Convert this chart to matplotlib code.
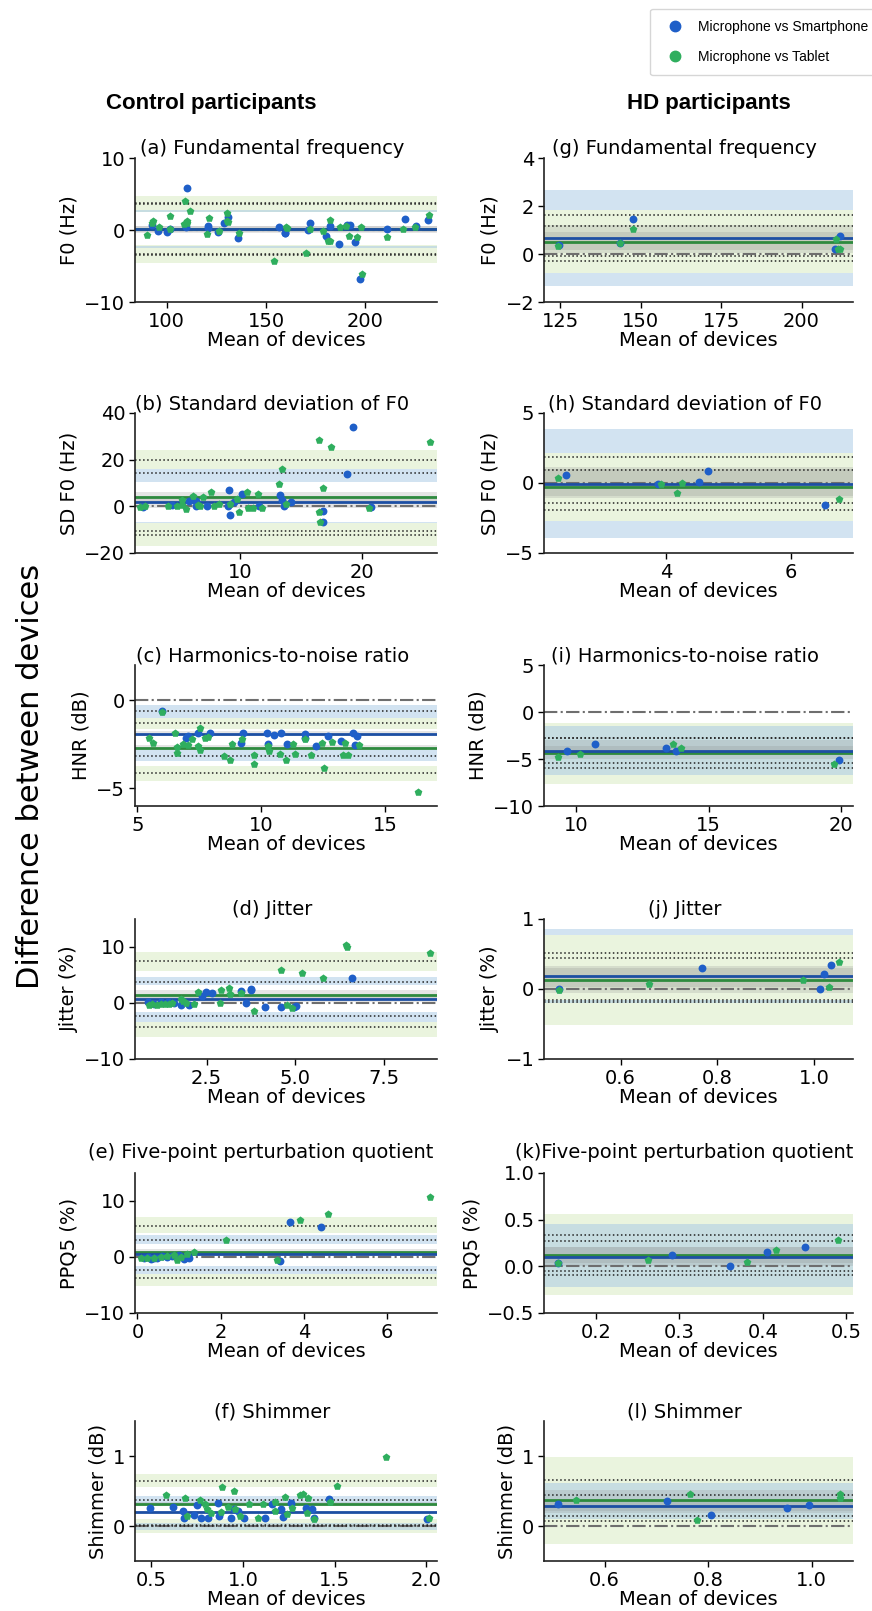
import numpy as np
import matplotlib.pyplot as plt
from matplotlib.lines import Line2D

# ---------------- control participants ----------------
# (a) fundamental frequency
a_phone_x = [92.4, 95.8, 100.3, 101.5, 109.6, 110.1, 120.7, 120.9, 125.9, 128.9, 130.9, 135.7, 156.7, 159.3,
             159.6, 171.0, 171.9, 180.3, 182.0, 186.7, 190.7, 192.4, 194.6, 197.1, 210.6, 219.9, 225.4, 231.6]
a_phone_y = [0.7, -0.1, -0.33, 0.14, 0.47, 5.8, 0.56, 0.23, -0.33, 0.93, 1.77, -1.16, 0.37, -0.37,
             -0.47, 0.0, 1.0, -0.84, 0.56, -1.9, 0.7, 0.7, -1.63, -6.84, 0.1, 1.5, 0.56, 1.4]
a_tab_x = [90.2, 92.8, 93.1, 96.1, 101.7, 101.5, 108.9, 109.3, 110.1, 110.4, 111.6, 120.0, 121.0, 126.4,
           130.1, 130.5, 130.8, 136.2, 154.2, 159.8, 160.4, 169.9, 171.9, 178.6, 181.2, 182.0, 182.0, 187.4,
           190.4, 191.8, 195.5, 197.6, 198.0, 210.6, 219.0, 224.9, 232.2]
a_tab_y = [-0.7, 1.0, 1.3, 0.47, 1.95, 0.1, 0.84, 4.05, 1.0, 1.2, 2.7, -0.56, 1.7, -0.14,
           2.3, 1.3, 1.16, -0.47, -4.28, 0.37, 0.33, -3.16, 0.1, -0.1, -1.53, -1.53, 1.4, 0.37,
           0.56, -0.84, -0.93, 0.37, -6.05, -0.93, 0.1, 0.37, 2.1]
# stats = [mean, lower LoA, upper LoA]; ci = [mean lo, mean hi, lower lo, lower hi, upper lo, upper hi]
a_phone_stats = [0.2, -3.3, 3.8]
a_phone_ci = [-0.3, 0.6, -2.45, -2.25, 2.56, 2.75]
a_tab_stats = [0.1, -3.5, 3.6]
a_tab_ci = [-0.4, 0.5, -4.56, -2.09, 2.56, 4.74]

# (b) standard deviation of F0
b_phone_x = [2.05, 4.45, 5.8, 6.4, 6.45, 7.3, 9.0, 9.1, 9.2, 9.5, 10.2, 11.6, 13.3, 13.5, 13.6, 14.2,
             16.8, 16.85, 18.8, 19.3, 20.8]
b_phone_y = [-0.4, 0.4, 2.4, 2.4, 0.3, 0.0, 0.3, 7.0, -3.7, 2.0, 5.3, 0.3, 4.9, 2.9, 0.0, 2.0,
             -1.9, -6.6, 13.9, 33.9, -0.1]
b_tab_x = [1.8, 2.25, 4.15, 4.85, 5.3, 5.3, 5.6, 6.2, 6.55, 6.75, 7.0, 7.6, 7.9, 8.3, 9.2, 9.8,
           9.9, 10.6, 10.7, 11.1, 11.5, 11.8, 13.2, 13.5, 13.8, 16.5, 16.6, 16.5, 16.8, 17.5, 20.6, 25.6]
b_tab_y = [-0.4, 0.3, 0.1, 0.0, 2.9, 0.6, -1.1, 4.3, 0.6, 0.0, 3.9, 6.0, 0.0, 0.9, 0.9, 3.1,
           -2.3, 6.3, -0.6, -0.9, 5.3, -0.6, 9.6, 16.0, 1.1, -2.3, -6.9, 28.4, 7.7, 25.3, -0.6, 27.7]
b_phone_stats = [2.0, -10.4, 14.3]
b_phone_ci = [-0.5, 4.5, -7.3, -6.8, 10.6, 16.0]
b_tab_stats = [3.9, -12.1, 19.9]
b_tab_ci = [1.7, 6.0, -16.9, -7.3, 16.0, 24.3]

# (c) harmonics-to-noise ratio
c_phone_x = [6.01, 6.96, 7.03, 7.43, 7.91, 9.19, 9.26, 10.23, 10.27, 10.51, 10.78, 11.05, 11.76, 11.78,
             12.23, 12.7, 13.24, 13.72, 13.78, 13.85]
c_phone_y = [-0.6, -2.12, -2.03, -1.84, -1.84, -2.44, -1.84, -1.88, -2.5, -1.95, -1.88, -2.46, -1.9, -2.16,
             -2.6, -2.03, -2.31, -1.84, -2.56, -2.03]
c_tab_x = [5.47, 5.64, 6.0, 6.51, 6.58, 6.59, 6.82, 7.03, 7.19, 7.43, 7.54, 7.53, 7.73, 7.86, 8.51, 8.72,
           8.81, 9.22, 9.69, 9.69, 10.27, 10.31, 10.74, 11.01, 11.28, 11.35, 11.76, 11.99, 12.46, 12.54,
           12.84, 13.31, 13.38, 13.51, 13.95, 16.32]
c_tab_y = [-2.16, -2.42, -0.66, -1.88, -2.63, -3.01, -2.46, -2.56, -2.22, -2.6, -1.55, -2.84, -2.12, -2.06,
           -3.16, -3.41, -2.5, -2.18, -3.1, -3.64, -2.6, -2.88, -3.07, -3.41, -2.5, -3.07, -2.18, -3.1,
           -2.4, -3.83, -2.37, -3.1, -2.4, -3.1, -2.56, -5.19]
c_phone_stats = [-1.9, -3.15, -0.6]
c_phone_ci = [-2.05, -1.75, -3.45, -2.85, -0.98, -0.27]
c_tab_stats = [-2.7, -4.15, -1.27]
c_tab_ci = [-2.85, -2.55, -4.6, -3.75, -1.65, -0.98]

# (d) jitter
d_phone_x = [0.85, 1.03, 1.2, 1.4, 1.58, 1.77, 2.0, 2.36, 2.47, 2.66, 3.46, 3.62, 3.74, 3.76, 4.14, 4.61,
             4.96, 5.01, 6.59]
d_phone_y = [0.1, -0.1, 0.2, 0.1, 0.0, -0.4, -0.4, 1.18, 1.95, 1.78, 2.13, 0.06, 2.37, 2.54, -0.71, -0.71,
             -0.71, -0.59, 4.44]
d_tab_x = [0.87, 0.97, 1.11, 1.2, 1.32, 1.44, 1.53, 1.77, 1.84, 1.91, 2.14, 2.26, 2.87, 2.91, 3.13, 3.16,
           3.46, 3.83, 4.61, 4.77, 4.92, 5.2, 5.79, 6.44, 6.47, 8.8]
d_tab_y = [-0.3, -0.1, -0.3, -0.1, -0.2, -0.1, 0.0, 0.77, 0.35, 0.0, -0.1, 1.95, 0.06, 2.37, 2.72, 1.54,
           1.78, -1.42, 5.92, -0.3, -0.83, 5.33, 4.5, 10.4, 9.94, 8.88]
d_phone_stats = [0.7, -2.4, 3.8]
d_phone_ci = [0.2, 1.2, -3.37, -1.6, 3.14, 4.73]
d_tab_stats = [1.5, -4.3, 7.5]
d_tab_ci = [0.6, 2.4, -6.04, -3.37, 5.68, 9.17]

# (e) five-point perturbation quotient
e_phone_x = [0.16, 0.25, 0.32, 0.4, 0.48, 0.6, 0.7, 0.84, 1.0, 1.12, 1.24, 3.42, 3.66, 4.4]
e_phone_y = [-0.24, 0.0, -0.36, -0.1, -0.24, 0.1, 0.0, 0.18, 0.3, -0.3, -0.12, -0.71, 6.21, 5.38]
e_tab_x = [0.08, 0.24, 0.4, 0.56, 0.72, 0.88, 0.96, 1.04, 1.2, 1.36, 2.12, 3.36, 3.9, 4.58, 7.02]
e_tab_y = [-0.1, -0.2, -0.1, 0.0, 0.18, 0.35, -0.53, 0.0, 0.47, 0.95, 2.96, -0.59, 6.69, 7.69, 10.65]
e_phone_stats = [0.47, -2.3, 3.1]
e_phone_ci = [0.15, 0.8, -3.1, -1.6, 2.25, 3.85]
e_tab_stats = [0.95, -3.8, 5.6]
e_tab_ci = [0.4, 1.5, -5.2, -3.1, 4.3, 7.1]

# (f) shimmer
f_phone_x = [0.491, 0.618, 0.672, 0.678, 0.732, 0.75, 0.768, 0.808, 0.866, 0.871, 0.935, 0.953, 0.975,
             1.007, 1.12, 1.156, 1.207, 1.221, 1.261, 1.342, 1.379, 1.388, 1.469, 2.004]
f_phone_y = [0.262, 0.271, 0.214, 0.119, 0.152, 0.295, 0.119, 0.119, 0.324, 0.143, 0.119, 0.238, 0.214,
             0.119, 0.119, 0.31, 0.248, 0.133, 0.333, 0.262, 0.238, 0.119, 0.381, 0.105]
f_tab_x = [0.578, 0.681, 0.696, 0.763, 0.79, 0.804, 0.826, 0.884, 0.88, 0.917, 0.953, 0.957, 0.986, 1.034,
           1.083, 1.112, 1.174, 1.174, 1.228, 1.239, 1.27, 1.312, 1.33, 1.351, 1.355, 1.388, 1.475, 1.514,
           1.78, 2.018]
f_tab_y = [0.438, 0.405, 0.143, 0.371, 0.31, 0.248, 0.19, 0.557, 0.2, 0.276, 0.5, 0.248, 0.143, 0.31,
           0.119, 0.31, 0.343, 0.214, 0.419, 0.167, 0.262, 0.438, 0.452, 0.181, 0.405, 0.095, 0.343, 0.571,
           0.99, 0.119]
f_phone_stats = [0.2, 0.02, 0.37]
f_phone_ci = [0.18, 0.22, -0.05, 0.05, 0.31, 0.43]
f_tab_stats = [0.32, 0.0, 0.65]
f_tab_ci = [0.29, 0.35, -0.1, 0.1, 0.56, 0.75]

# ---------------- HD participants ----------------
# (g) fundamental frequency
g_phone_x = [124.6, 143.6, 147.8, 210.3, 211.9]
g_phone_y = [0.37, 0.46, 1.45, 0.22, 0.77]
g_tab_x = [124.5, 143.6, 147.5, 210.6, 211.3, 211.9]
g_tab_y = [0.32, 0.44, 1.03, 0.63, 0.22, 0.22]
g_phone_stats = [0.65, -0.3, 1.62]
g_phone_ci = [0.05, 1.2, -1.33, -0.8, 1.85, 2.67]
g_tab_stats = [0.52, -0.1, 1.17]
g_tab_ci = [0.15, 0.9, -0.8, 0.5, 0.5, 1.85]

# (h) standard deviation of F0
h_phone_x = [2.4, 3.87, 4.52, 4.67, 6.55]
h_phone_y = [0.6, -0.1, 0.05, 0.88, -1.6]
h_tab_x = [2.27, 3.92, 4.17, 4.26, 6.77]
h_tab_y = [0.36, -0.07, -0.71, 0.0, -1.14]
h_phone_stats = [-0.05, -1.95, 1.86]
h_phone_ci = [-1.07, 0.97, -3.93, -2.74, 2.14, 3.86]
h_tab_stats = [-0.29, -1.43, 0.9]
h_tab_ci = [-0.9, 1.14, -2.74, -0.25, -0.25, 2.14]

# (i) harmonics-to-noise ratio
i_phone_x = [9.65, 10.69, 13.4, 13.78, 19.94]
i_phone_y = [-4.1, -3.37, -3.8, -4.2, -5.13]
i_tab_x = [9.31, 10.13, 13.66, 13.95, 19.75]
i_tab_y = [-4.84, -4.47, -3.44, -3.85, -5.57]
i_phone_stats = [-4.1, -5.4, -2.8]
i_phone_ci = [-4.6, -3.6, -6.74, -4.1, -4.1, -1.46]
i_tab_stats = [-4.4, -6.0, -2.75]
i_tab_ci = [-5.0, -3.0, -7.65, -4.4, -4.4, -1.17]

# (j) jitter
j_phone_x = [0.473, 0.768, 1.012, 1.021, 1.034]
j_phone_y = [0.0, 0.297, 0.0, 0.215, 0.349]
j_tab_x = [0.473, 0.658, 0.976, 1.03, 1.052]
j_tab_y = [-0.01, 0.077, 0.134, 0.029, 0.383]
j_phone_stats = [0.18, -0.15, 0.51]
j_phone_ci = [0.03, 0.33, -0.2, -0.16, 0.77, 0.86]
j_tab_stats = [0.13, -0.19, 0.44]
j_tab_ci = [-0.06, 0.3, -0.51, 0.12, 0.12, 0.77]

# (k) five-point perturbation quotient
k_phone_x = [0.155, 0.291, 0.361, 0.405, 0.45]
k_phone_y = [0.032, 0.125, 0.007, 0.158, 0.204]
k_tab_x = [0.155, 0.262, 0.381, 0.416, 0.49]
k_tab_y = [0.036, 0.072, 0.05, 0.179, 0.283]
k_phone_stats = [0.105, -0.09, 0.337]
k_phone_ci = [0.0, 0.21, -0.226, 0.11, 0.11, 0.455]
k_tab_stats = [0.125, -0.047, 0.276]
k_tab_ci = [0.04, 0.21, -0.308, 0.12, 0.12, 0.563]

# (l) shimmer
l_phone_x = [0.51, 0.721, 0.805, 0.953, 0.995]
l_phone_y = [0.31, 0.357, 0.152, 0.262, 0.295]
l_tab_x = [0.545, 0.766, 0.779, 1.054, 1.055]
l_tab_y = [0.371, 0.452, 0.086, 0.452, 0.405]
l_phone_stats = [0.28, 0.143, 0.438]
l_phone_ci = [0.18, 0.37, 0.095, 0.3, 0.3, 0.61]
l_tab_stats = [0.371, 0.071, 0.652]
l_tab_ci = [0.22, 0.52, -0.252, 0.37, 0.37, 0.986]

BLUE_PT = '#1f5fc8'
GREEN_PT = '#2fae5e'
BLUE_LINE = '#1d4fa3'
GREEN_LINE = '#2e8a3e'
BLUE_BAND = '#a6c8e4'
GREEN_BAND = '#dcedc8'

W, H = 872, 1611
fig = plt.figure(figsize=(W / 100, H / 100), dpi=100)

cols = [(135, 437), (544, 853)]
rows = [(158, 302), (413, 553), (665, 806), (919, 1059), (1173, 1313), (1421, 1561)]


def axpos(c, r):
    x0, x1 = cols[c]
    t, b = rows[r]
    return [x0 / W, 1 - b / H, (x1 - x0) / W, (b - t) / H]


panels = [
    (0, 0, '(a) Fundamental frequency', 'F0 (Hz)', (-10, 10), [-10, 0, 10], (84, 236), [100, 150, 200],
     a_phone_x, a_phone_y, a_tab_x, a_tab_y, a_phone_stats, a_phone_ci, a_tab_stats, a_tab_ci),
    (0, 1, '(b) Standard deviation of F0', 'SD F0 (Hz)', (-20, 40), [-20, 0, 20, 40], (1.4, 26.2), [10, 20],
     b_phone_x, b_phone_y, b_tab_x, b_tab_y, b_phone_stats, b_phone_ci, b_tab_stats, b_tab_ci),
    (0, 2, '(c) Harmonics-to-noise ratio', 'HNR (dB)', (-6, 2), [-5, 0], (4.9, 17.1), [5, 10, 15],
     c_phone_x, c_phone_y, c_tab_x, c_tab_y, c_phone_stats, c_phone_ci, c_tab_stats, c_tab_ci),
    (0, 3, '(d) Jitter', 'Jitter (%)', (-10, 15), [-10, 0, 10], (0.48, 9.0), [2.5, 5.0, 7.5],
     d_phone_x, d_phone_y, d_tab_x, d_tab_y, d_phone_stats, d_phone_ci, d_tab_stats, d_tab_ci),
    (0, 4, '(e) Five-point perturbation quotient', 'PPQ5 (%)', (-10, 15), [-10, 0, 10], (-0.06, 7.2), [0, 2, 4, 6],
     e_phone_x, e_phone_y, e_tab_x, e_tab_y, e_phone_stats, e_phone_ci, e_tab_stats, e_tab_ci),
    (0, 5, '(f) Shimmer', 'Shimmer (dB)', (-0.5, 1.5), [0, 1], (0.41, 2.06), [0.5, 1.0, 1.5, 2.0],
     f_phone_x, f_phone_y, f_tab_x, f_tab_y, f_phone_stats, f_phone_ci, f_tab_stats, f_tab_ci),
    (1, 0, '(g) Fundamental frequency', 'F0 (Hz)', (-2, 4), [-2, 0, 2, 4], (120, 216), [125, 150, 175, 200],
     g_phone_x, g_phone_y, g_tab_x, g_tab_y, g_phone_stats, g_phone_ci, g_tab_stats, g_tab_ci),
    (1, 1, '(h) Standard deviation of F0', 'SD F0 (Hz)', (-5, 5), [-5, 0, 5], (2.04, 7.0), [4, 6],
     h_phone_x, h_phone_y, h_tab_x, h_tab_y, h_phone_stats, h_phone_ci, h_tab_stats, h_tab_ci),
    (1, 2, '(i) Harmonics-to-noise ratio', 'HNR (dB)', (-10, 5), [-10, -5, 0, 5], (8.78, 20.45), [10, 15, 20],
     i_phone_x, i_phone_y, i_tab_x, i_tab_y, i_phone_stats, i_phone_ci, i_tab_stats, i_tab_ci),
    (1, 3, '(j) Jitter', 'Jitter (%)', (-1, 1), [-1, 0, 1], (0.442, 1.08), [0.6, 0.8, 1.0],
     j_phone_x, j_phone_y, j_tab_x, j_tab_y, j_phone_stats, j_phone_ci, j_tab_stats, j_tab_ci),
    (1, 4, '(k)Five-point perturbation quotient', 'PPQ5 (%)', (-0.5, 1.0), [-0.5, 0.0, 0.5, 1.0], (0.138, 0.508),
     [0.2, 0.3, 0.4, 0.5],
     k_phone_x, k_phone_y, k_tab_x, k_tab_y, k_phone_stats, k_phone_ci, k_tab_stats, k_tab_ci),
    (1, 5, '(l) Shimmer', 'Shimmer (dB)', (-0.5, 1.5), [0, 1], (0.483, 1.08), [0.6, 0.8, 1.0],
     l_phone_x, l_phone_y, l_tab_x, l_tab_y, l_phone_stats, l_phone_ci, l_tab_stats, l_tab_ci),
]

for (c, r, title, ylab, ylim, yticks, xlim, xticks,
     px, py, tx, ty, pst, pci, tst, tci) in panels:
    ax = fig.add_axes(axpos(c, r))
    # limits of agreement confidence bands: tablet first, smartphone on top
    for ci, col, al in ((tci, GREEN_BAND, 0.6), (pci, BLUE_BAND, 0.5)):
        ax.axhspan(ci[2], ci[3], color=col, alpha=al, lw=0, zorder=0)
        ax.axhspan(ci[4], ci[5], color=col, alpha=al, lw=0, zorder=0)
    for ci in (pci, tci):
        ax.axhspan(ci[0], ci[1], color='#8c8c8c', alpha=0.22, lw=0, zorder=0.5)
    ax.axhline(0, color='#6e6e6e', ls='-.', lw=1.5, zorder=1)
    for st in (pst, tst):
        ax.axhline(st[1], color='#222222', ls=':', lw=1.1, zorder=1.5)
        ax.axhline(st[2], color='#222222', ls=':', lw=1.1, zorder=1.5)
    ax.axhline(tst[0], color=GREEN_LINE, lw=2, zorder=2)
    ax.axhline(pst[0], color=BLUE_LINE, lw=2, zorder=2)
    ax.scatter(px, py, marker='o', s=32, color=BLUE_PT, lw=0, zorder=3)
    ax.scatter(tx, ty, marker='p', s=34, color=GREEN_PT, lw=0, zorder=3)

    ax.set_xlim(xlim)
    ax.set_ylim(ylim)
    ax.set_xticks(xticks)
    ax.set_yticks(yticks)
    for s in ('top', 'right'):
        ax.spines[s].set_visible(False)
    for s in ('left', 'bottom'):
        ax.spines[s].set_linewidth(1.2)
        ax.spines[s].set_color('#222222')
    ax.tick_params(labelsize=14, length=4, width=1, pad=3)
    ax.set_xlabel('Mean of devices', fontsize=14, labelpad=0)
    ax.set_ylabel(ylab, fontsize=14)
    tx_pos = 0.455
    pad = 1
    if r == 4:
        pad = 11
        if c == 0:
            tx_pos = 0.417
    ax.set_title(title, fontsize=14, x=tx_pos, pad=pad)

fig.text(211 / W, 1 - 103 / H, 'Control participants', fontsize=16, fontweight='bold',
         family='Liberation Sans', ha='center', va='center')
fig.text(709 / W, 1 - 103 / H, 'HD participants', fontsize=16, fontweight='bold',
         family='Liberation Sans', ha='center', va='center')
fig.text(31 / W, 1 - 776 / H, 'Difference between devices', fontsize=22, rotation=90, ha='center', va='center')

handles = [Line2D([], [], marker='o', ls='none', color=BLUE_PT, markersize=7.5),
           Line2D([], [], marker='o', ls='none', color=GREEN_PT, markersize=7.5)]
fig.legend(handles, ['Microphone vs Smartphone', 'Microphone vs Tablet'], loc='upper right',
           bbox_to_anchor=(1.016, 0.999), frameon=True, edgecolor='#cccccc',
           prop={'family': 'Liberation Sans', 'size': 10},
           labelspacing=1.2, handletextpad=0.6, borderpad=0.8)

fig.savefig('out.png', dpi=100)
